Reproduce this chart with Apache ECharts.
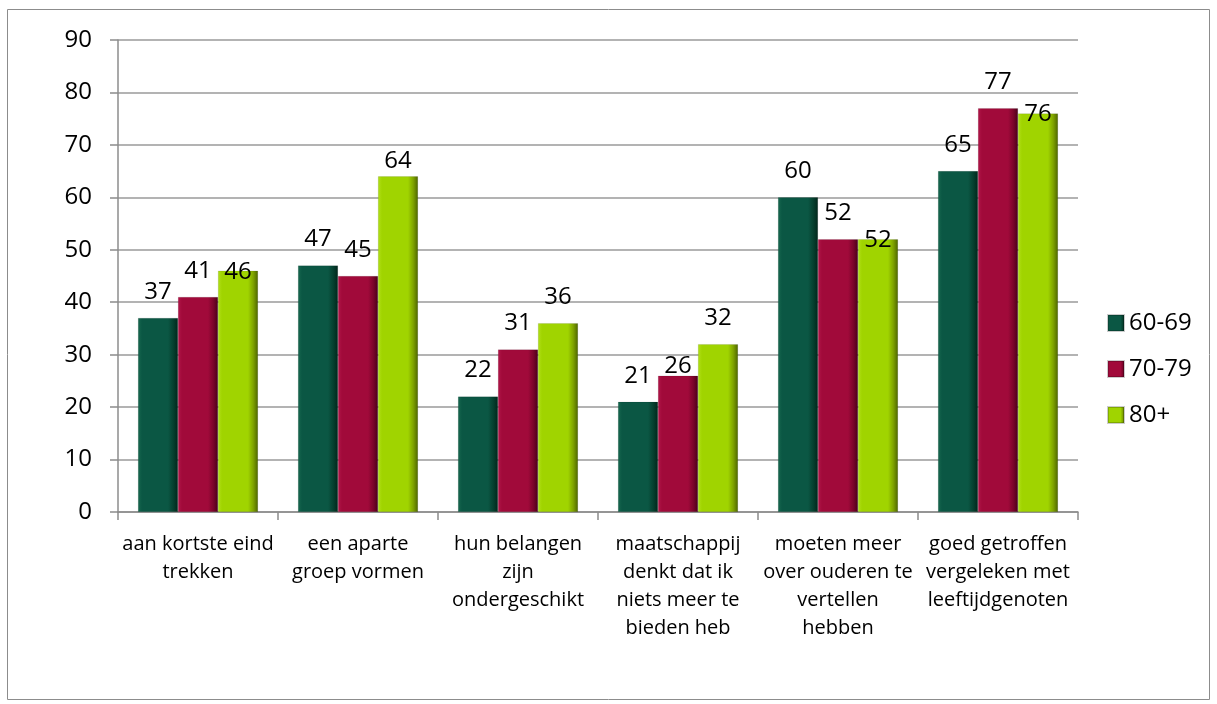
<!DOCTYPE html>
<html>
<head>
<meta charset="utf-8">
<script src="https://cdn.jsdelivr.net/npm/echarts@6/dist/echarts.min.js"></script>
<style>
  html, body { margin: 0; padding: 0; background: #fff; }
  #chart { width: 1217px; height: 704px; }
</style>
</head>
<body>
<div id="chart"></div>
<script>
// categorieën (x-as)
const categories = [
  'aan kortste eind\ntrekken',
  'een aparte\ngroep vormen',
  'hun belangen\nzijn\nondergeschikt',
  'maatschappij\ndenkt dat ik\nniets meer te\nbieden heb',
  'moeten meer\nover ouderen te\nvertellen\nhebben',
  'goed getroffen\nvergeleken met\nleeftijdgenoten'
];
const seriesNames = ['60-69', '70-79', '80+'];
const values6069 = [37, 47, 22, 21, 60, 65];
const values7079 = [41, 45, 31, 26, 52, 77];
const values80 = [46, 64, 36, 32, 52, 76];

// verschuiving van de waardelabels (px omlaag), zoals in het origineel
const labelShift6069 = [0, 0, 0, 0, 0, 0];
const labelShift7079 = [0, 0, 0, 17, 0, 0];
const labelShift80 = [27, 11, 0, 0, 27, 27];

const FONT = '"Open Sans", "Noto Sans", sans-serif';

// bevel-achtig kleurverloop per reeks
const bevel = (light, base, dark, darker) => new echarts.graphic.LinearGradient(0, 0, 1, 0, [
  { offset: 0, color: light },
  { offset: 0.1, color: base },
  { offset: 0.75, color: base },
  { offset: 0.88, color: dark },
  { offset: 1, color: darker }
]);

const colors = [
  bevel('#17684f', '#0b5744', '#06402f', '#01261b'),
  bevel('#b11649', '#a10a3a', '#7c052b', '#4a0019'),
  bevel('#b2e01a', '#a0d400', '#7fa300', '#4d6400')
];
const legendColors = ['#0b5744', '#a10a3a', '#a0d400'];

const makeSeries = (name, data, shift, i) => ({
  name: name,
  type: 'bar',
  data: data.map((v, j) => ({ value: v, label: { offset: [0, shift[j]] } })),
  barGap: '0%',
  barCategoryGap: '25%',
  itemStyle: { color: colors[i], borderColor: 'rgba(0,0,0,0.2)', borderWidth: 0.5 },
  label: {
    show: true,
    position: 'top',
    distance: 14,
    color: '#000',
    fontFamily: FONT,
    fontSize: 24
  }
});

const chart = echarts.init(document.getElementById('chart'));
chart.setOption({
  animation: false,
  color: legendColors,
  graphic: [{
    type: 'rect',
    shape: { x: 7.5, y: 9.5, width: 1202, height: 690 },
    style: { fill: 'none', stroke: '#8c8c8c', lineWidth: 1 },
    silent: true
  }],
  grid: { left: 118, right: 139, top: 40, bottom: 192 },
  legend: {
    orient: 'vertical',
    left: 1102,
    top: 306,
    itemWidth: 16,
    itemHeight: 16,
    itemGap: 22,
    icon: 'rect',
    textStyle: { fontFamily: FONT, fontSize: 24, color: '#000' },
    data: seriesNames
  },
  xAxis: {
    type: 'category',
    data: categories,
    axisLine: { lineStyle: { color: '#8c8c8c', width: 1.5 } },
    axisTick: { show: true, alignWithLabel: false, length: 8, lineStyle: { color: '#8c8c8c', width: 1.5 } },
    axisLabel: {
      interval: 0,
      color: '#000',
      fontFamily: FONT,
      fontSize: 20,
      lineHeight: 28,
      margin: 18
    }
  },
  yAxis: {
    type: 'value',
    min: 0,
    max: 90,
    interval: 10,
    axisLine: { show: true, lineStyle: { color: '#8c8c8c', width: 1.5 } },
    axisTick: { show: true, length: 8, lineStyle: { color: '#8c8c8c', width: 1.5 } },
    splitLine: { lineStyle: { color: '#9a9a9a', width: 1.5 } },
    axisLabel: { color: '#000', fontFamily: FONT, fontSize: 24, margin: 26 }
  },
  series: [
    makeSeries(seriesNames[0], values6069, labelShift6069, 0),
    makeSeries(seriesNames[1], values7079, labelShift7079, 1),
    makeSeries(seriesNames[2], values80, labelShift80, 2)
  ]
});
</script>
</body>
</html>
